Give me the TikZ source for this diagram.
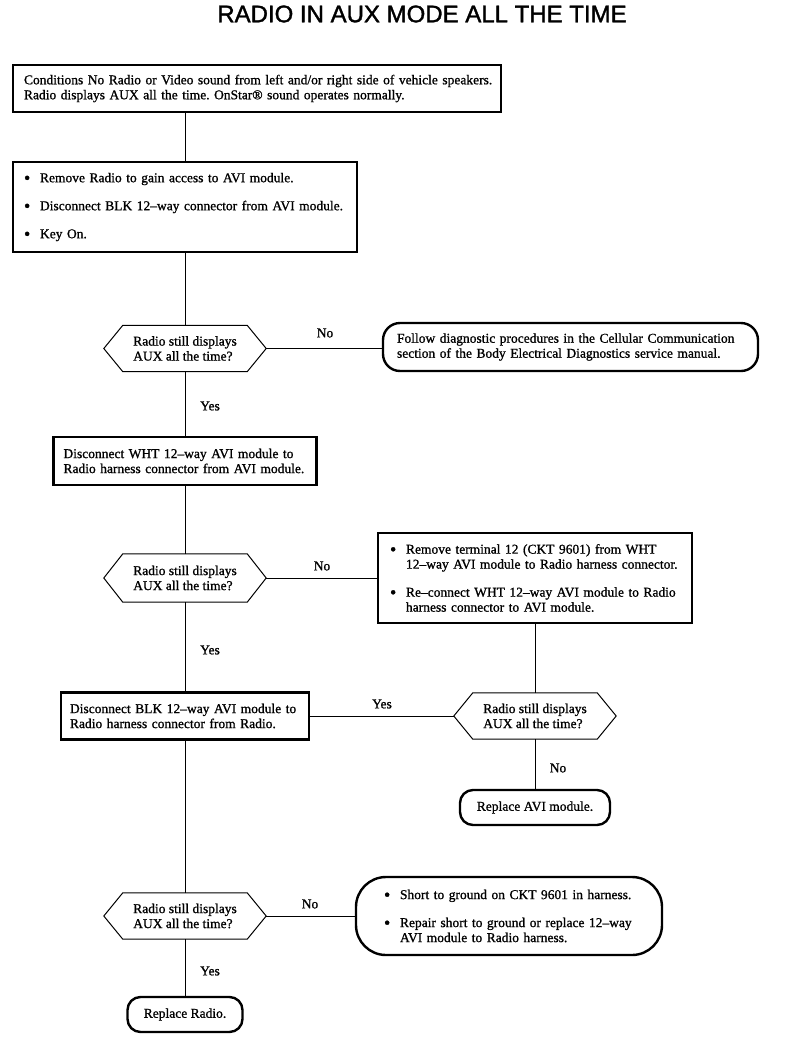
\documentclass[tikz,border=0pt]{standalone}
\usepackage{fontspec}
\setmainfont{Liberation Serif}[RawFeature={embolden=1.0}]
\newfontfamily\titlefont{Liberation Sans}[RawFeature={embolden=1.5}]
\newcommand{\bul}{\makebox[16pt][l]{\raisebox{-1.6pt}{\fontsize{18}{15}\selectfont\textbullet}}}
\newcommand{\ind}{\hspace*{16pt}}
\newcommand{\hexdraw}[1]{%
  \draw[hexline] (#1.west) -- ([xshift=19pt]#1.north west) -- ([xshift=-19pt]#1.north east)
    -- (#1.east) -- ([xshift=-19pt]#1.south east) -- ([xshift=19pt]#1.south west) -- cycle;}
\frenchspacing
\begin{document}
\begin{tikzpicture}[x=1pt,y=-1pt,
  every node/.style={font=\fontsize{13.5}{15}\selectfont},
  box/.style={draw, line width=2.4pt, inner ysep=0pt, align=left},
  term/.style={draw, line width=2.4pt, inner ysep=0pt, align=left, rounded corners=#1},
  term/.default=17pt,
  dec/.style={inner sep=0pt, align=left, minimum width=162pt, minimum height=46pt},
  hexline/.style={line width=1pt},
  lab/.style={inner sep=0pt},
  conn/.style={line width=0.9pt}
]
\fill[white] (0,0) rectangle (800,1042);
\useasboundingbox (0,0) rectangle (800,1042);

\node[font=\titlefont\fontsize{24}{24}\selectfont] (title) at (422,14) {RADIO IN AUX MODE ALL THE TIME};

\node[box, inner xsep=11pt, text width=466pt, minimum height=47pt] (b1) at (257,88.5)
  {\mbox{Conditions No Radio or Video sound from left and/or right side of vehicle speakers.}\\
   \mbox{Radio displays AUX all the time. OnStar® sound operates normally.}};

\node[box, inner xsep=11pt, text width=322pt, minimum height=90pt] (b2) at (185,207)
  {\bul Remove Radio to gain access to AVI module.\\[13pt]
   \mbox{\bul Disconnect BLK 12--way connector from AVI module.}\\[13pt]
   \bul Key On.};

\node[dec] (d1) at (185,348.5) {Radio still displays\\AUX all the time?};
\hexdraw{d1}

\node[term, inner xsep=14pt, text width=347pt, minimum height=48pt] (t1) at (570.5,347)
  {\mbox{Follow diagnostic procedures in the Cellular Communication}\\
   \mbox{section of the Body Electrical Diagnostics service manual.}};

\node[box, inner xsep=10pt, text width=243pt, minimum height=48pt] (b3) at (185,461)
  {\mbox{Disconnect WHT 12--way AVI module to}\\
   \mbox{Radio harness connector from AVI module.}};

\node[dec, minimum height=48pt] (d2) at (185,578) {Radio still displays\\AUX all the time?};
\hexdraw{d2}

\node[box, inner xsep=12pt, text width=290pt, minimum height=90pt] (b4) at (535,578)
  {\mbox{\bul Remove terminal 12 (CKT 9601) from WHT}\\
   \mbox{\ind 12--way AVI module to Radio harness connector.}\\[13pt]
   \mbox{\bul Re--connect WHT 12--way AVI module to Radio}\\
   \mbox{\ind harness connector to AVI module.}};

\node[box, inner xsep=9pt, text width=230pt, minimum height=47pt] (b5) at (185,716)
  {\mbox{Disconnect BLK 12--way AVI module to}\\
   \mbox{Radio harness connector from Radio.}};

\node[dec] (d3) at (535,716) {Radio still displays\\AUX all the time?};
\hexdraw{d3}

\node[term=13pt, align=center, inner xsep=6pt, minimum width=150pt, minimum height=35pt] (t2) at (535,807.5)
  {Replace AVI module.};

\node[dec] (d4) at (185,916) {Radio still displays\\AUX all the time?};
\hexdraw{d4}

\node[term=30pt, inner xsep=28pt, text width=250pt, minimum height=78pt] (t3) at (509,916)
  {\mbox{\bul Short to ground on CKT 9601 in harness.}\\[13pt]
   \mbox{\bul Repair short to ground or replace 12--way}\\
   \mbox{\ind AVI module to Radio harness.}};

\node[term=13pt, align=center, inner xsep=6pt, minimum width=115pt, minimum height=35pt] (t4) at (185,1014.5)
  {Replace Radio.};

% labels
\node[lab] (l1) at (325,333) {No};
\node[lab] (l2) at (210,406) {Yes};
\node[lab] (l3) at (322,566) {No};
\node[lab] (l4) at (210,650) {Yes};
\node[lab] (l5) at (382,704) {Yes};
\node[lab] (l6) at (558,768) {No};
\node[lab] (l7) at (310,904) {No};
\node[lab] (l8) at (210,971) {Yes};

% connectors
\draw[conn] (b2.north |- b1.south) -- (b2.north);
\draw[conn] (b2.south) -- (d1.north);
\draw[conn] (d1.east) -- (d1.east -| t1.west);
\draw[conn] (d1.south) -- (b3.north);
\draw[conn] (b3.south) -- (d2.north);
\draw[conn] (d2.east) -- (d2.east -| b4.west);
\draw[conn] (b4.south) -- (d3.north);
\draw[conn] (d2.south) -- (b5.north);
\draw[conn] (b5.east) -- (b5.east -| d3.west);
\draw[conn] (d3.south) -- (t2.north);
\draw[conn] (b5.south) -- (d4.north);
\draw[conn] (d4.east) -- (d4.east -| t3.west);
\draw[conn] (d4.south) -- (t4.north);
\end{tikzpicture}
\end{document}
